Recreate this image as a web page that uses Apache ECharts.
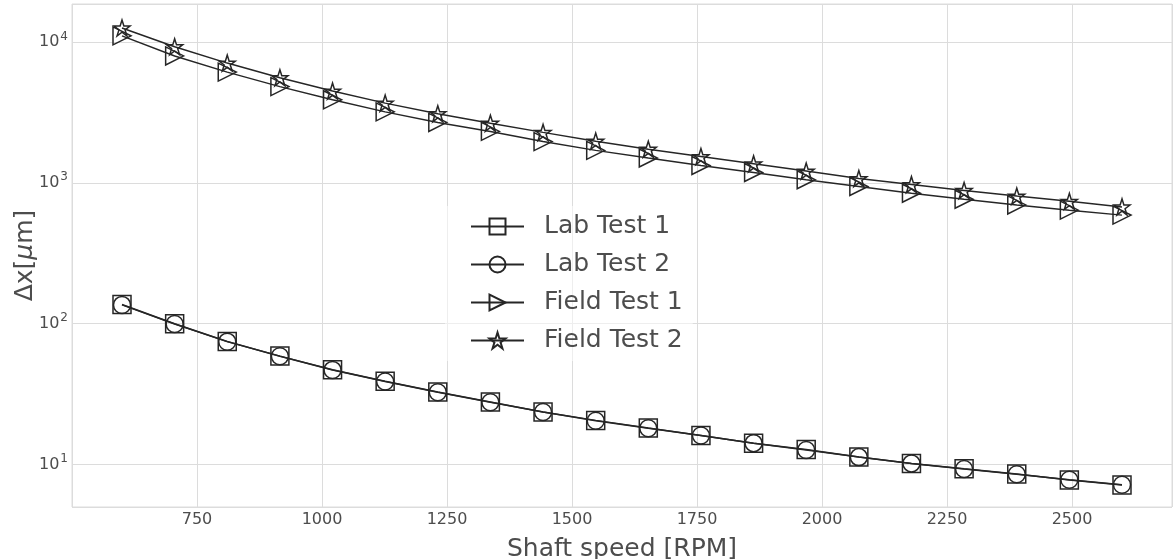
<!DOCTYPE html>
<html>
<head>
<meta charset="utf-8">
<script src="https://cdn.jsdelivr.net/npm/echarts@6/dist/echarts.min.js"></script>
<style>
html,body{margin:0;padding:0;background:#ffffff;}
#chart{width:1173px;height:559px;}
</style>
</head>
<body>
<div id="chart"></div>
<script>
// ---- data ----
const speeds = [600, 705.3, 810.5, 915.8, 1021.1, 1126.3, 1231.6, 1336.8, 1442.1, 1547.4,
                1652.6, 1757.9, 1863.2, 1968.4, 2073.7, 2178.9, 2284.2, 2389.5, 2494.7, 2600];
const labTest1 = [137, 100, 74.8, 58.9, 47.2, 39.0, 32.7, 27.8, 23.6, 20.6,
                  18.2, 16.1, 14.2, 12.8, 11.3, 10.2, 9.33, 8.56, 7.78, 7.17];
const labTest2 = [136, 99.5, 74.6, 58.7, 47.0, 38.9, 32.6, 27.7, 23.6, 20.5,
                  18.1, 16.1, 14.2, 12.7, 11.3, 10.2, 9.3, 8.55, 7.8, 7.2];
const fieldTest1 = [11050, 7960, 6110, 4820, 3885, 3190, 2685, 2318, 1962, 1700,
                    1500, 1327, 1184, 1052, 942, 843, 765, 697, 640, 590];
const fieldTest2 = [12570, 9250, 7080, 5575, 4480, 3680, 3097, 2650, 2282, 1977,
                    1734, 1537, 1365, 1213, 1072, 972, 883, 805, 739, 675];
const seriesNames = ['Lab Test 1', 'Lab Test 2', 'Field Test 1', 'Field Test 2'];
const xTickValues = [750, 1000, 1250, 1500, 1750, 2000, 2250, 2500];
const yTickExponents = [1, 2, 3, 4];

// ---- styling ----
const FONT = 'DejaVu Sans';
const INK = '#262626';
const TEXT = '#4d4d4d';
const GRID = '#dcdcdc';
const STAR = 'path://M0,-100 L-22.45,-30.9 L-95.11,-30.9 L-36.33,11.8 L-58.78,80.9 L0,38.2 L58.78,80.9 L36.33,11.8 L95.11,-30.9 L22.45,-30.9 Z';

function pairs(ys) { return speeds.map((x, i) => [x, ys[i]]); }

function makeSeries(name, ys, symbol, size, rotate) {
  return {
    name: name,
    type: 'line',
    data: pairs(ys),
    symbol: symbol,
    symbolSize: size,
    symbolRotate: rotate || 0,
    showAllSymbol: true,
    lineStyle: { color: INK, width: 1.5 },
    itemStyle: { color: 'none', borderColor: INK, borderWidth: 1.5 },
    emphasis: { disabled: true },
    z: 3
  };
}

const chart = echarts.init(document.getElementById('chart'), null, { renderer: 'canvas' });
chart.setOption({
  animation: false,
  backgroundColor: '#ffffff',
  textStyle: { fontFamily: FONT },
  grid: {
    left: 72, right: 1, top: 4, bottom: 52,
    containLabel: false,
    outerBoundsMode: 'none',
    show: true, borderColor: GRID, borderWidth: 1, backgroundColor: 'transparent'
  },
  legend: {
    orient: 'vertical',
    left: 445, top: 206,
    padding: [8, 10, 8, 25],
    itemWidth: 53, itemHeight: 20, itemGap: 13,
    backgroundColor: 'rgba(255,255,255,0.5)',
    data: seriesNames,
    textStyle: { fontFamily: FONT, fontSize: 25, color: TEXT, lineHeight: 25, padding: [0, 0, 0, 15] },
    selectedMode: false
  },
  xAxis: {
    type: 'value',
    min: 500, max: 2700, interval: 250,
    name: 'Shaft speed [RPM]',
    nameLocation: 'middle',
    nameGap: 30,
    nameMoveOverlap: false,
    nameTextStyle: { fontFamily: FONT, fontSize: 25, color: TEXT },
    axisLine: { show: false },
    axisTick: { show: false },
    axisLabel: {
      fontFamily: FONT, fontSize: 16, color: TEXT, margin: 5,
      showMinLabel: false, showMaxLabel: false,
      formatter: v => (xTickValues.indexOf(v) >= 0 ? String(v) : '')
    },
    splitLine: { show: true, lineStyle: { color: GRID, width: 1 } }
  },
  yAxis: {
    type: 'log',
    logBase: 10,
    min: 5, max: 18600,
    name: '{n|Δx[}{i|μ}{n|m]}',
    nameLocation: 'middle',
    nameGap: 34,
    nameRotate: 90,
    nameMoveOverlap: false,
    nameTextStyle: {
      fontFamily: FONT, fontSize: 25, color: TEXT,
      rich: {
        n: { fontFamily: FONT, fontSize: 25, color: TEXT },
        i: { fontFamily: FONT, fontSize: 25, color: TEXT, fontStyle: 'italic' }
      }
    },
    axisLine: { show: false },
    axisTick: { show: false },
    minorTick: { show: false },
    axisLabel: {
      margin: 4,
      showMinLabel: false, showMaxLabel: false,
      formatter: function (v) {
        const e = Math.round(Math.log10(v));
        if (Math.abs(Math.log10(v) - e) > 1e-6 || yTickExponents.indexOf(e) < 0) return '';
        return '{b|10}{s|' + e + '}';
      },
      rich: {
        b: { fontFamily: FONT, fontSize: 16, color: TEXT },
        s: { fontFamily: FONT, fontSize: 12, color: TEXT, padding: [0, 0, 11, 1] }
      }
    },
    splitLine: { show: true, lineStyle: { color: GRID, width: 1 } }
  },
  series: [
    makeSeries(seriesNames[0], labTest1, 'rect', 18),
    makeSeries(seriesNames[1], labTest2, 'circle', 17),
    makeSeries(seriesNames[2], fieldTest1, 'triangle', 18, -90),
    makeSeries(seriesNames[3], fieldTest2, STAR, 16)
  ]
});
</script>
</body>
</html>
